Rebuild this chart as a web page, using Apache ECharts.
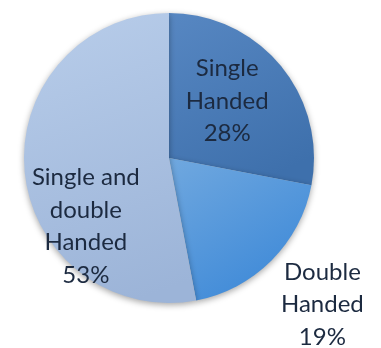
<!DOCTYPE html>
<html>
<head>
<meta charset="utf-8">
<script src="https://cdn.jsdelivr.net/npm/echarts@6/dist/echarts.min.js"></script>
<style>
  html, body { margin: 0; padding: 0; background: #fff; }
  #chart { width: 381px; height: 348px; }
</style>
</head>
<body>
<div id="chart"></div>
<script>
// slices, clockwise from 12 o'clock
const names = ["Single\nHanded", "Double\nHanded", "Single and\ndouble\nHanded"]
const values = [28, 19, 53]

// top / bottom shade of each slice
const topColors = ["#5787c2", "#70a8df", "#b8cdea"]
const bottomColors = ["#3e70ac", "#3f8ad8", "#9cb4d8"]
// nudge labels away from the default "inside" spot
const labelShift = [[0, -9], [100, 93], [-8, 61]]

let ins = echarts.init(document.getElementById("chart"))

let data = names.map((n, i) => ({
  name: n,
  value: values[i],
  itemStyle: {
    color: {
      type: "linear",
      x: 0, y: 0, x2: 0.6, y2: 1,
      colorStops: [
        { offset: 0, color: topColors[i] },
        { offset: 1, color: bottomColors[i] }
      ]
    }
  }
}))

ins.setOption({
  animation: false,
  series: [{
    type: "pie",
    center: [169, 158],
    radius: [0, 145],
    startAngle: 90,
    clockwise: true,
    data: data,
    itemStyle: {
      borderWidth: 0,
      shadowBlur: 6,
      shadowColor: "rgba(0,0,0,.35)",
      shadowOffsetY: 2
    },
    label: {
      show: true,
      position: "inside",
      formatter: "{b}\n{d}%",
      fontFamily: "Lato",
      fontSize: 24,
      lineHeight: 32.5,
      color: "#1c2a40",
      align: "center"
    },
    labelLine: { show: false },
    labelLayout: function (p) {
      let s = labelShift[p.dataIndex]
      return { dx: s[0], dy: s[1] }
    },
    emphasis: { disabled: true }
  }]
})
</script>
</body>
</html>
